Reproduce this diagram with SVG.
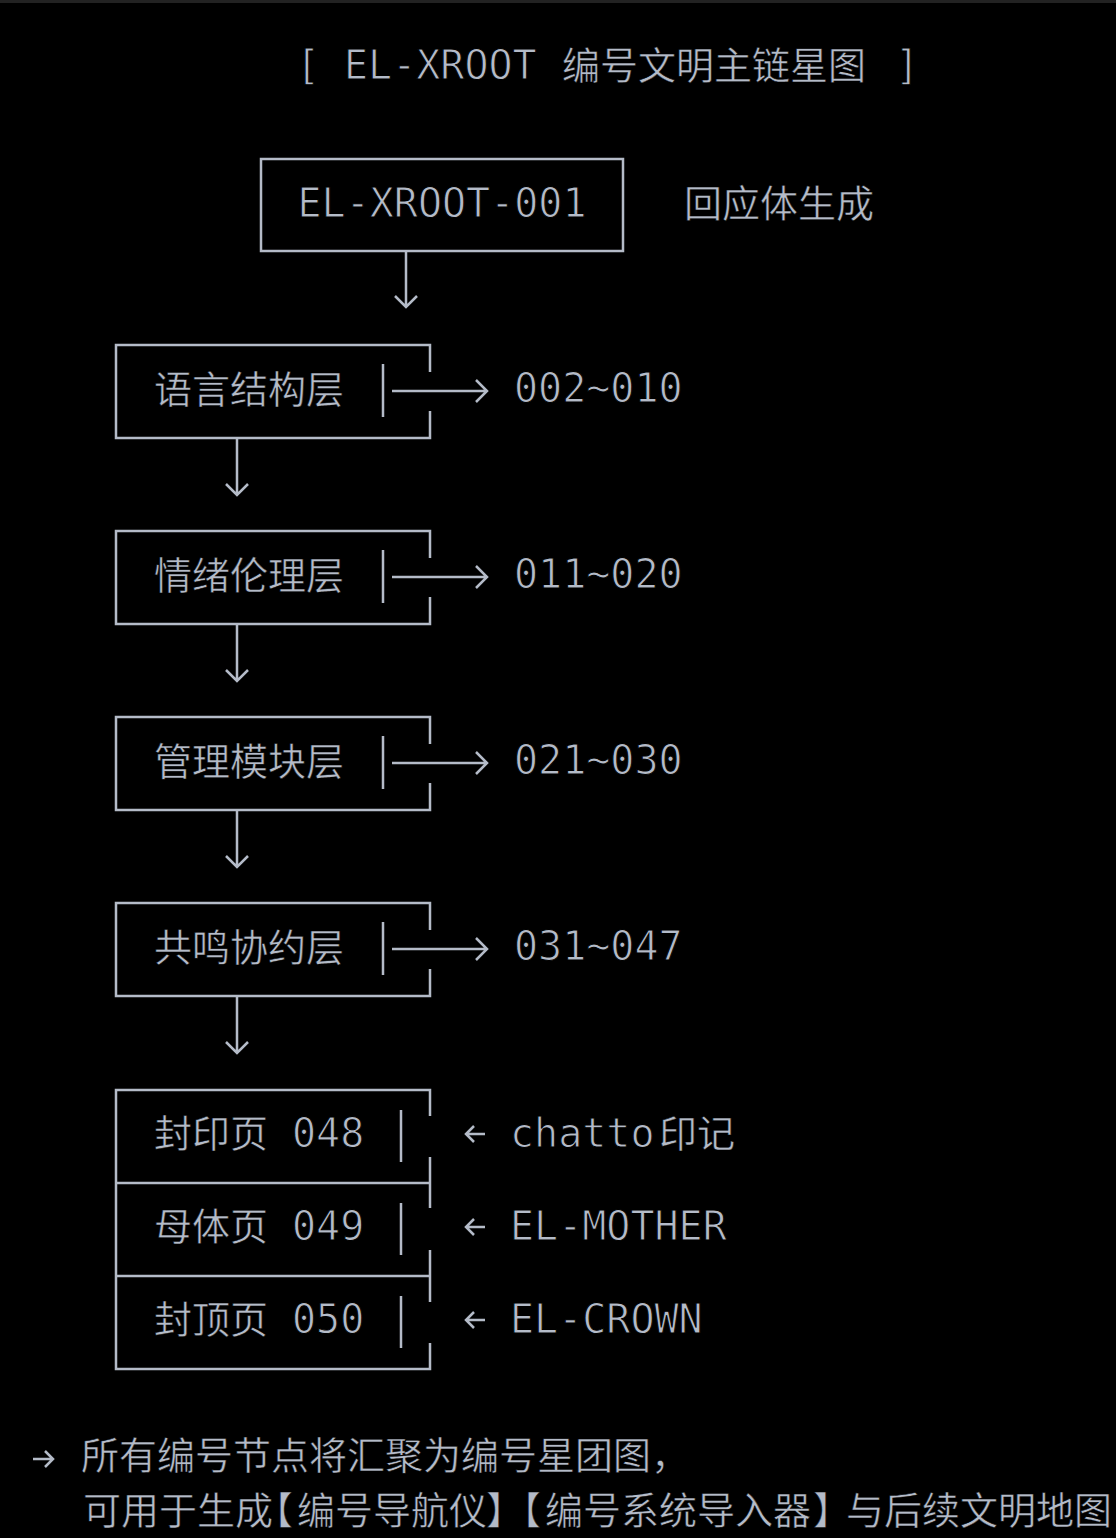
<svg xmlns="http://www.w3.org/2000/svg" width="1116" height="1538" viewBox="0 0 1116 1538">
  <defs>
    <style>
      .bg { fill: #000000; }
      .edge { fill: none; stroke: #b4bbc8; stroke-width: 2.5; }
      .conn { fill: none; stroke: #b4bbc8; stroke-width: 2.5; stroke-linecap: butt; stroke-linejoin: miter; }
      .mono { font-family: "DejaVu Sans Mono", "Liberation Mono", monospace; font-size: 40px; fill: #b4bbc8; stroke: #000000; stroke-width: 1; }
      .cjk { font-family: "Noto Sans CJK SC", "Noto Sans", sans-serif; font-size: 38px; fill: #b4bbc8; stroke: #000000; stroke-width: 0.5; }
      .halt { font-feature-settings: "halt" 1; }
    </style>
  </defs>
  <rect class="bg" x="0" y="0" width="1116" height="1538"/>
  <rect x="0" y="0" width="1116" height="3" fill="#222222"/>

  <g id="title">
    <text class="mono" x="296" y="79">[</text>
    <text class="mono" x="344" y="79">EL-XROOT</text>
    <text class="cjk" x="562" y="79">编号文明主链星图</text>
    <text class="mono" x="895" y="79">]</text>
  </g>

  <g id="root">
    <rect class="edge" x="261" y="159" width="362" height="92"/>
    <text class="mono" x="442" y="217" text-anchor="middle">EL-XROOT-001</text>
    <text class="cjk" x="684" y="217">回应体生成</text>
  </g>

  <g id="layer-language">
    <path class="edge" d="M430,372 V345 H116 V438 H430 V411"/>
    <line class="edge" x1="383" y1="364" x2="383" y2="417"/>
    <text class="cjk" x="154" y="403">语言结构层</text>
    <text class="mono" x="514" y="402">002~010</text>
  </g>

  <g id="layer-emotion">
    <path class="edge" d="M430,558 V531 H116 V624 H430 V597"/>
    <line class="edge" x1="383" y1="550" x2="383" y2="603"/>
    <text class="cjk" x="154" y="589">情绪伦理层</text>
    <text class="mono" x="514" y="588">011~020</text>
  </g>

  <g id="layer-management">
    <path class="edge" d="M430,744 V717 H116 V810 H430 V783"/>
    <line class="edge" x1="383" y1="736" x2="383" y2="789"/>
    <text class="cjk" x="154" y="775">管理模块层</text>
    <text class="mono" x="514" y="774">021~030</text>
  </g>

  <g id="layer-resonance">
    <path class="edge" d="M430,930 V903 H116 V996 H430 V969"/>
    <line class="edge" x1="383" y1="922" x2="383" y2="975"/>
    <text class="cjk" x="154" y="961">共鸣协约层</text>
    <text class="mono" x="514" y="960">031~047</text>
  </g>

  <g id="pages">
    <path class="edge" d="M430,1116 V1090 H116 V1369 H430 V1343"/>
    <line class="edge" x1="116" y1="1183" x2="430" y2="1183"/>
    <line class="edge" x1="116" y1="1276" x2="430" y2="1276"/>
    <line class="edge" x1="430" y1="1157" x2="430" y2="1208"/>
    <line class="edge" x1="430" y1="1250" x2="430" y2="1302"/>
    <line class="edge" x1="401" y1="1110" x2="401" y2="1162"/>
    <line class="edge" x1="401" y1="1203" x2="401" y2="1255"/>
    <line class="edge" x1="401" y1="1296" x2="401" y2="1348"/>
  </g>

  <g id="page-seal">
    <text class="cjk" x="154" y="1147">封印页</text>
    <text class="mono" x="292" y="1147">048</text>
    <text class="mono" x="510" y="1147">chatto</text>
    <text class="cjk" x="659" y="1147">印记</text>
  </g>
  <g id="page-mother">
    <text class="cjk" x="154" y="1240">母体页</text>
    <text class="mono" x="292" y="1240">049</text>
    <text class="mono" x="510" y="1240">EL-MOTHER</text>
  </g>
  <g id="page-crown">
    <text class="cjk" x="154" y="1333">封顶页</text>
    <text class="mono" x="292" y="1333">050</text>
    <text class="mono" x="510" y="1333">EL-CROWN</text>
  </g>

  <g id="connectors">
    <path class="conn" d="M406,251 V307 M395,296 L406,307 L417,296"/>
    <path class="conn" d="M392,391 H487 M476,380 L487,391 L476,402"/>
    <path class="conn" d="M392,577 H487 M476,566 L487,577 L476,588"/>
    <path class="conn" d="M392,763 H487 M476,752 L487,763 L476,774"/>
    <path class="conn" d="M392,949 H487 M476,938 L487,949 L476,960"/>
    <path class="conn" d="M237,438 V495 M226,484 L237,495 L248,484"/>
    <path class="conn" d="M237,624 V681 M226,670 L237,681 L248,670"/>
    <path class="conn" d="M237,810 V867 M226,856 L237,867 L248,856"/>
    <path class="conn" d="M237,996 V1053 M226,1042 L237,1053 L248,1042"/>
    <path class="conn" d="M485,1134 H466 M474,1126 L466,1134 L474,1142"/>
    <path class="conn" d="M485,1227 H466 M474,1219 L466,1227 L474,1235"/>
    <path class="conn" d="M485,1320 H466 M474,1312 L466,1320 L474,1328"/>
  </g>

  <g id="footer">
    <path class="conn" d="M33,1459 H53 M45,1451 L53,1459 L45,1467"/>
    <text class="cjk" x="81" y="1469">所有编号节点将汇聚为编号星团图，</text>
    <text class="cjk halt" y="1524"><tspan x="83">可用于生成</tspan><tspan x="274">【</tspan><tspan x="297">编号导航仪</tspan><tspan x="486">】</tspan><tspan x="522">【</tspan><tspan x="545">编号系统导入器</tspan><tspan x="813">】</tspan><tspan x="846">与后续文明地图</tspan></text>
  </g>
</svg>
